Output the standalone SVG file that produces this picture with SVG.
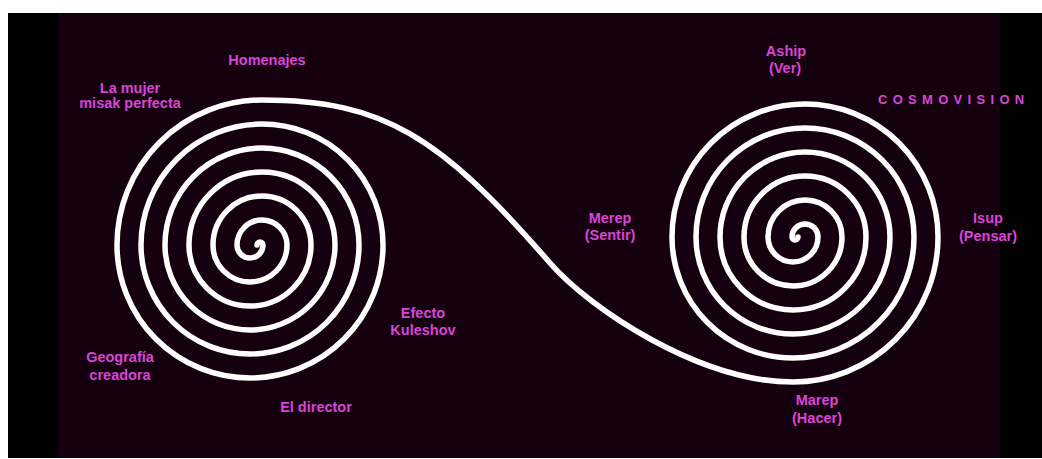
<svg xmlns="http://www.w3.org/2000/svg" width="1042" height="459" viewBox="0 0 1042 459">
<style>
.lbl{font-family:"Liberation Sans",Arial,sans-serif;font-weight:bold;font-size:14.5px;fill:#d945d6;text-anchor:middle}
.title{font-family:"Liberation Sans",Arial,sans-serif;font-weight:bold;font-size:13px;fill:#d945d6;letter-spacing:5.3px}
.spiral{fill:none;stroke:#ffffff;stroke-width:5.5;stroke-linecap:round;stroke-linejoin:round}
</style>
<rect x="0" y="0" width="1042" height="459" fill="#ffffff"/>
<rect x="8" y="13" width="1034" height="445" fill="#000000"/>
<rect x="58" y="13" width="942" height="445" fill="#150010"/>
<g id="connectors">
<path class="spiral" d="M257,245 A3,3 0 0 1 263,245 A13,13 0 0 1 237,245 A25,25 0 0 1 287,245 A37,37 0 0 1 213,245 A49,49 0 0 1 311,245 A61,61 0 0 1 189,245 A73,73 0 0 1 335,245 A85,85 0 0 1 165,245 A97,97 0 0 1 359,245 A109,109 0 0 1 141,245 A121,121 0 0 1 383,245 A133,133 0 0 1 117,245 A145,145 0 0 1 262,100 C383,100 440,136 550,263 C590,309 700,382 793,382 A145,145 0 0 0 938,237 A133,133 0 0 0 672,237 A121,121 0 0 0 914,237 A109,109 0 0 0 696,237 A97,97 0 0 0 890,237 A85,85 0 0 0 720,237 A73,73 0 0 0 866,237 A61,61 0 0 0 744,237 A49,49 0 0 0 842,237 A37,37 0 0 0 768,237 A25,25 0 0 0 818,237 A13,13 0 0 0 792,237 A3,3 0 0 0 798,237"/>
</g>
<g id="homenajes"><text class="lbl" x="267" y="65">Homenajes</text></g>
<g id="mujer-misak"><text class="lbl" x="130" y="93">La mujer</text><text class="lbl" x="130" y="108">misak perfecta</text></g>
<g id="geografia"><text class="lbl" x="120" y="362">Geografía</text><text class="lbl" x="120" y="380">creadora</text></g>
<g id="director"><text class="lbl" x="316" y="412">El director</text></g>
<g id="kuleshov"><text class="lbl" x="423" y="318">Efecto</text><text class="lbl" x="423" y="335">Kuleshov</text></g>
<g id="merep"><text class="lbl" x="610" y="223">Merep</text><text class="lbl" x="610" y="240">(Sentir)</text></g>
<g id="aship"><text class="lbl" x="786" y="56">Aship</text><text class="lbl" x="785" y="73">(Ver)</text></g>
<g id="cosmovision"><text class="title" x="878" y="104">COSMOVISION</text></g>
<g id="isup"><text class="lbl" x="988" y="223">Isup</text><text class="lbl" x="988" y="241">(Pensar)</text></g>
<g id="marep"><text class="lbl" x="817" y="405">Marep</text><text class="lbl" x="817" y="423">(Hacer)</text></g>
</svg>
